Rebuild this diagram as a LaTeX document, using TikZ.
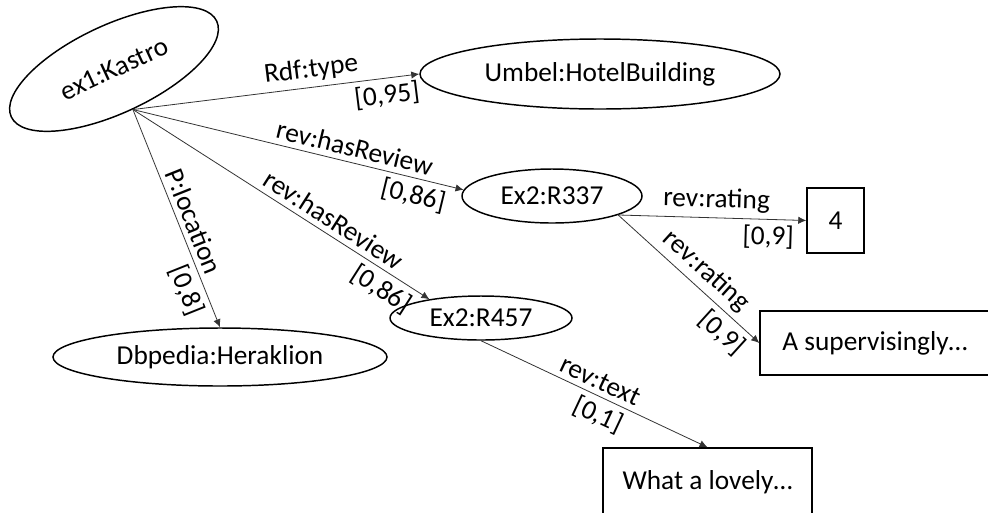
\documentclass[tikz,border=0pt]{standalone}
\usepackage{fontspec}
\setmainfont{Carlito}
\usetikzlibrary{shapes.geometric,arrows.meta}

\begin{document}
\begin{tikzpicture}[x=0.75pt,y=-0.75pt,
    font=\fontsize{20.5}{24}\selectfont,
    res/.style={ellipse,draw,line width=1.1pt,inner sep=0pt},
    lit/.style={rectangle,draw,line width=1.1pt,inner sep=0pt},
    prop/.style={draw=black!80,line width=0.6pt,-{Latex[length=6pt,width=5.5pt]}},
    lbl/.style={sloped,inner sep=4pt}]
  \useasboundingbox (0,0) rectangle (988,512);

  \node[res,rotate=25,minimum width=170pt,minimum height=66pt] (kastro) at (114,69) {ex1:Kastro};
  \node[res,minimum width=270pt,minimum height=52.5pt] (umbel) at (600,74) {Umbel:HotelBuilding};
  \node[res,minimum width=135pt,minimum height=40.5pt] (r337) at (552,196) {Ex2:R337};
  \node[res,minimum width=136.5pt,minimum height=33pt] (r457) at (481,318) {Ex2:R457};
  \node[res,minimum width=250.5pt,minimum height=43.5pt] (heraklion) at (220,357) {Dbpedia:Heraklion};

  \node[lit,minimum width=42.75pt,minimum height=48.75pt] (four) at (835.5,220.5) {4};
  \node[lit,minimum width=172.5pt,minimum height=48pt] (superv) at (875,343) {A supervisingly\dots};
  \node[lit,minimum width=156.75pt,minimum height=51pt] (lovely) at (707.5,482) {What a lovely\dots};

  \draw[prop] (kastro.south) -- (umbel.west)
    node[lbl,above,pos=0.63] {Rdf:type}
    node[lbl,below,pos=0.88] {[0,95]};
  \draw[prop] (kastro.south) -- (r337.176)
    node[lbl,above,pos=0.66] {rev:hasReview}
    node[lbl,below,pos=0.86] {[0,86]};
  \draw[prop] (kastro.south) -- (r457.160)
    node[lbl,above,pos=0.65] {rev:hasReview}
    node[lbl,below,pos=0.87] {[0,86]};
  \draw[prop] (kastro.south) -- (heraklion.north)
    node[lbl,above,pos=0.54] {P:location}
    node[lbl,below,pos=0.8] {[0,8]};

  \draw[prop] (r337.-16) -- (four.west)
    node[lbl,above,pos=0.52] {rev:rating}
    node[lbl,below,pos=0.8] {[0,9]};
  \draw[prop] (r337.-16) -- (superv.west)
    node[lbl,above,pos=0.54] {rev:rating}
    node[lbl,below,pos=0.82] {[0,9]};

  \draw[prop] (r457.south) -- (lovely.north)
    node[lbl,above,pos=0.5] {rev:text}
    node[lbl,below,pos=0.55] {[0,1]};
\end{tikzpicture}
\end{document}
